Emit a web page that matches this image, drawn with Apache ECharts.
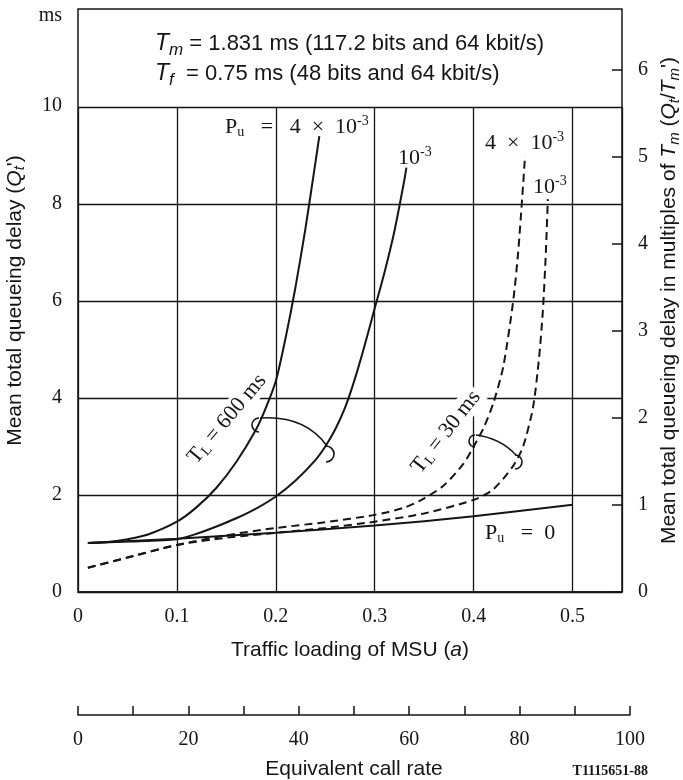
<!DOCTYPE html>
<html>
<head>
<meta charset="utf-8">
<script src="https://cdn.jsdelivr.net/npm/echarts@6/dist/echarts.min.js"></script>
<style>
  html, body { margin: 0; background: #fff; }
  #chart { width: 683px; height: 780px; }
</style>
</head>
<body>
<div id="chart"></div>
<script>
// 数据: [traffic loading a, mean total queueing delay in ms]
const puHighLong = [[0.01, 1.01], [0.03, 1.03], [0.05, 1.09], [0.07, 1.18], [0.1, 1.45], [0.12, 1.75], [0.14, 2.15], [0.16, 2.68], [0.18, 3.35], [0.19, 3.8], [0.2, 4.35], [0.21, 5.25], [0.22, 6.3], [0.23, 7.5], [0.24, 8.85], [0.244, 9.4]];
const puLowLong = [[0.01, 1.01], [0.05, 1.04], [0.1, 1.09], [0.12, 1.2], [0.14, 1.35], [0.16, 1.52], [0.18, 1.72], [0.2, 1.97], [0.22, 2.3], [0.24, 2.72], [0.25, 3.0], [0.26, 3.35], [0.27, 3.8], [0.28, 4.4], [0.29, 5.1], [0.3, 5.85], [0.31, 6.6], [0.32, 7.45], [0.33, 8.5], [0.332, 8.75]];
const puZero = [[0.01, 1.01], [0.1, 1.1], [0.2, 1.22], [0.3, 1.37], [0.4, 1.56], [0.5, 1.8]];
const puHighShort = [[0.01, 0.5], [0.05, 0.71], [0.1, 0.97], [0.15, 1.17], [0.2, 1.32], [0.25, 1.44], [0.3, 1.59], [0.33, 1.74], [0.35, 1.93], [0.37, 2.2], [0.39, 2.65], [0.4, 3.0], [0.41, 3.38], [0.42, 3.9], [0.43, 4.65], [0.44, 6.0], [0.445, 7.0], [0.449, 8.1], [0.452, 9.0]];
const puLowShort = [[0.01, 0.5], [0.05, 0.71], [0.1, 0.97], [0.15, 1.12], [0.2, 1.22], [0.25, 1.32], [0.3, 1.45], [0.35, 1.62], [0.4, 1.9], [0.42, 2.12], [0.44, 2.6], [0.45, 3.0], [0.46, 3.8], [0.466, 4.8], [0.47, 5.8], [0.473, 7.0], [0.475, 8.1]];

const Tm = 1.79;          // 右轴刻度: 每个 Tm 的毫秒数
const yMax = 12;
const xMax = 0.55;
const callRateMax = 100;

const chart = echarts.init(document.getElementById('chart'));

const serif = 'Liberation Serif';
const sans = 'Liberation Sans';
const black = '#151515';

function curve(data, dashed) {
    return {
        type: 'line',
        xAxisIndex: 0,
        yAxisIndex: 0,
        data: data,
        smooth: 0.25,
        symbol: 'none',
        silent: true,
        z: 5,
        lineStyle: {
            color: black,
            width: 2,
            type: dashed ? [8, 5] : 'solid'
        }
    };
}

const subRich = {
    s: { fontFamily: serif, fontSize: 14, fill: black, padding: [10, 0, 0, 0] },
    p: { fontFamily: serif, fontSize: 14, fill: black, padding: [0, 0, 12, 0] }
};

// 轴名称里的斜体和下标
const nameRich = {
    i: { fontFamily: sans, fontStyle: 'italic', fontSize: 21, color: black },
    s: { fontFamily: sans, fontStyle: 'italic', fontSize: 15, color: black, padding: [10, 0, 0, 0] }
};

function note(text, x, y) {
    return {
        type: 'text', x: x, y: y, z: 10,
        style: { text: text, fontFamily: serif, fontSize: 22, fill: black, verticalAlign: 'middle', rich: subRich }
    };
}

function tlNote(text, x, y, deg) {
    return {
        type: 'text', x: x, y: y, rotation: deg * Math.PI / 180, z: 10,
        style: {
            text: text, fontFamily: serif, fontSize: 22, fill: black,
            align: 'center', verticalAlign: 'middle', backgroundColor: '#fff', padding: [0, 3],
            rich: subRich
        }
    };
}

const penStyle = { stroke: black, lineWidth: 1.6, fill: null };

chart.setOption({
    animation: false,
    backgroundColor: '#fff',
    grid: [
        { left: 78, right: 61, top: 107, bottom: 188, outerBoundsMode: 'none' },
        { left: 78, right: 61, top: 9, bottom: 188, outerBoundsMode: 'none', show: true, borderColor: black, borderWidth: 1.5, backgroundColor: 'transparent' },
        { left: 78, width: 552, top: 714, height: 1, outerBoundsMode: 'none' }
    ],
    xAxis: [
        {
            gridIndex: 0, type: 'value', min: 0, max: xMax, interval: 0.1,
            name: 'Traffic loading of MSU ({i|a})', nameLocation: 'middle', nameGap: 48,
            nameTextStyle: { fontFamily: sans, fontSize: 21, color: black, rich: nameRich },
            axisLine: { show: true, lineStyle: { color: black, width: 1.5 } },
            axisTick: { show: false },
            axisLabel: { showMaxLabel: false, margin: 15, fontFamily: serif, fontSize: 20, color: black, formatter: v => v === 0 ? '0' : v.toFixed(1) },
            splitLine: { show: true, lineStyle: { color: black, width: 1.3 } }
        },
        { gridIndex: 1, type: 'value', min: 0, max: xMax, show: false },
        {
            gridIndex: 2, type: 'value', min: 0, max: callRateMax, interval: 10,
            name: 'Equivalent call rate', nameLocation: 'middle', nameGap: 44,
            nameTextStyle: { fontFamily: sans, fontSize: 21, color: black },
            axisLine: { show: true, lineStyle: { color: black, width: 1.5 } },
            axisTick: { show: true, inside: true, length: 9, lineStyle: { color: black, width: 1.5 } },
            axisLabel: { margin: 15, fontFamily: serif, fontSize: 20, color: black, formatter: v => v % 20 === 0 ? String(v) : '' },
            splitLine: { show: false }
        }
    ],
    yAxis: [
        {
            gridIndex: 0, type: 'value', min: 0, max: 10, interval: 2,
            axisLine: { show: false }, axisTick: { show: false }, axisLabel: { show: false },
            splitLine: { show: true, lineStyle: { color: black, width: 1.3 } }
        },
        {
            gridIndex: 1, type: 'value', min: 0, max: yMax, interval: 2, position: 'left',
            name: "Mean total queueing delay ({i|Q}{s|t}')", nameLocation: 'middle', nameGap: 38, nameRotate: 90,
            nameTextStyle: { fontFamily: sans, fontSize: 21, color: black, rich: nameRich },
            axisLine: { show: false }, axisTick: { show: false },
            axisLabel: {
                margin: 16, fontFamily: serif, fontSize: 20, color: black,
                formatter: v => v === yMax ? '{m|ms}' : String(v),
                rich: { m: { fontFamily: serif, fontSize: 20, color: black, padding: [14, 0, 0, 0] } }
            },
            splitLine: { show: false }
        },
        {
            gridIndex: 1, type: 'value', min: 0, max: yMax / Tm, interval: 1, position: 'right',
            name: 'Mean total queueing delay in multiples of {i|T}{s|m} ({i|Q}{s|t}/{i|T}{s|m}\')',
            nameLocation: 'middle', nameGap: 35, nameRotate: 90,
            nameTextStyle: { fontFamily: sans, fontSize: 21, color: black, rich: nameRich },
            axisLine: { show: false },
            axisTick: { show: true, inside: true, length: 10, lineStyle: { color: black, width: 1.5 } },
            axisLabel: { showMaxLabel: false, margin: 16, fontFamily: serif, fontSize: 20, color: black },
            splitLine: { show: false }
        },
        { gridIndex: 2, type: 'value', show: false }
    ],
    series: [
        curve(puHighLong, false),
        curve(puLowLong, false),
        curve(puZero, false),
        curve(puHighShort, true),
        curve(puLowShort, true)
    ],
    graphic: [
        // 顶部参数说明
        {
            type: 'text', x: 155, y: 44,
            style: {
                text: '{i|T}{s|m} = 1.831 ms (117.2 bits and 64 kbit/s)',
                fontFamily: sans, fontSize: 22, fill: black, verticalAlign: 'middle',
                rich: {
                    i: { fontFamily: sans, fontStyle: 'italic', fontSize: 23, fill: black },
                    s: { fontFamily: sans, fontStyle: 'italic', fontSize: 17, fill: black, padding: [13, 0, 0, 0] }
                }
            }
        },
        {
            type: 'text', x: 155, y: 74,
            style: {
                text: '{i|T}{s|f}  = 0.75 ms (48 bits and 64 kbit/s)',
                fontFamily: sans, fontSize: 22, fill: black, verticalAlign: 'middle',
                rich: {
                    i: { fontFamily: sans, fontStyle: 'italic', fontSize: 23, fill: black },
                    s: { fontFamily: sans, fontStyle: 'italic', fontSize: 17, fill: black, padding: [13, 0, 0, 0] }
                }
            }
        },
        // 曲线标注
        note('P{s|u}   =   4  ×  10{p|-3}', 225, 127),
        note('10{p|-3}', 398, 158),
        note('4  ×  10{p|-3}', 485, 143),
        note('10{p|-3}', 533, 187),
        note('P{s|u}   =  0', 485, 533),
        tlNote('T{s|L} = 600 ms', 227, 419, 50),
        tlNote('T{s|L} = 30 ms', 446, 432, 52),
        // 括号连线
        { type: 'bezierCurve', z: 10, shape: { x1: 260, y1: 418, x2: 327, y2: 446, cpx1: 305, cpy1: 415 }, style: penStyle },
        { type: 'arc', z: 10, shape: { cx: 259, cy: 425, r: 7, startAngle: Math.PI * 0.5, endAngle: Math.PI * 1.5, clockwise: true }, style: penStyle },
        { type: 'arc', z: 10, shape: { cx: 326, cy: 454, r: 8, startAngle: -Math.PI * 0.5, endAngle: Math.PI * 0.5, clockwise: true }, style: penStyle },
        { type: 'bezierCurve', z: 10, shape: { x1: 476, y1: 435, x2: 516, y2: 455, cpx1: 500, cpy1: 438 }, style: penStyle },
        { type: 'arc', z: 10, shape: { cx: 475, cy: 441, r: 6, startAngle: Math.PI * 0.5, endAngle: Math.PI * 1.5, clockwise: true }, style: penStyle },
        { type: 'arc', z: 10, shape: { cx: 515, cy: 462, r: 7, startAngle: -Math.PI * 0.5, endAngle: Math.PI * 0.5, clockwise: true }, style: penStyle },
        // 图号
        {
            type: 'text', x: 648, y: 771,
            style: { text: 'T1115651-88', fontFamily: serif, fontSize: 14, fontWeight: 'bold', fill: black, align: 'right', verticalAlign: 'middle' }
        }
    ]
});
</script>
</body>
</html>
